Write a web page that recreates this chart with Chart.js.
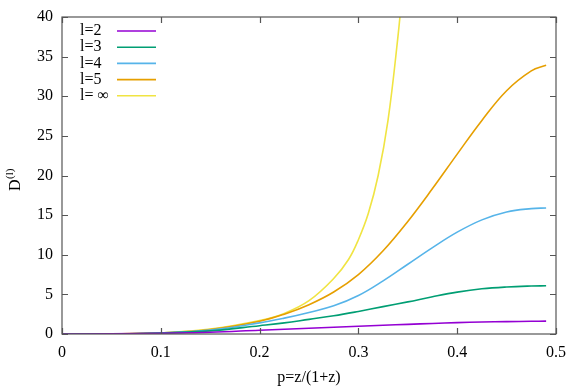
<!DOCTYPE html>
<html>
<head>
<meta charset="utf-8">
<script src="https://cdn.jsdelivr.net/npm/chart.js@4/dist/chart.umd.min.js"></script>
<style>
    html, body { margin: 0; padding: 0; background: #fff; }
    #wrap { width: 581px; height: 388px; }
</style>
</head>
<body>
<div id="wrap"><canvas id="dplot" width="581" height="388"></canvas></div>
<script>
// p grid shared by the finite-l curves
var pValues = [0, 0.05, 0.1, 0.15, 0.2, 0.225, 0.25, 0.275, 0.3, 0.325, 0.35, 0.375, 0.4, 0.425, 0.45, 0.475, 0.49];
var dL2 = [0, 0.01, 0.1, 0.22, 0.48, 0.6, 0.72, 0.85, 0.97, 1.1, 1.22, 1.33, 1.43, 1.51, 1.56, 1.6, 1.62];
var dL3 = [0, 0.01, 0.12, 0.4, 1.05, 1.4, 1.85, 2.3, 2.85, 3.45, 4.05, 4.7, 5.28, 5.7, 5.93, 6.05, 6.08];
var dL4 = [0, 0.01, 0.13, 0.5, 1.4, 2.0, 2.72, 3.55, 4.85, 6.7, 8.8, 10.9, 12.85, 14.4, 15.4, 15.82, 15.9];
var dL5 = [0, 0.01, 0.14, 0.55, 1.6, 2.5, 3.7, 5.3, 7.5, 10.5, 14.2, 18.35, 22.7, 26.95, 30.7, 33.2, 33.9];
// l = infinity runs off the top, so it has its own p grid
var pInf = [0, 0.05, 0.1, 0.15, 0.2, 0.225, 0.25, 0.275, 0.29, 0.3, 0.31, 0.32, 0.33, 0.34, 0.345];
var dLInf = [0, 0.01, 0.15, 0.62, 1.7, 2.6, 4.2, 7.0, 9.4, 11.9, 15.2, 20.0, 27.0, 37.5, 44];

var seriesLabels = ['l=2', 'l=3', 'l=4', 'l=5', 'l= \u221e'];
var seriesColors = ['#9400d3', '#009e73', '#56b4e9', '#e69f00', '#f0e442'];

var xTicks = [0, 0.1, 0.2, 0.3, 0.4, 0.5];
var yTicks = [0, 5, 10, 15, 20, 25, 30, 35, 40];
var xTitle = 'p=z/(1+z)';

var FONT = '"Liberation Serif", "Times New Roman", serif';

function pts(xs, ys) {
    var out = [];
    for (var i = 0; i < xs.length; i++) out.push({x: xs[i], y: ys[i]});
    return out;
}

var allY = [dL2, dL3, dL4, dL5, dLInf];
var dataSets = [];
allY.forEach(function (ys, k) {
    dataSets.push({
        label: seriesLabels[k],
        data: k === 4 ? pts(pInf, ys) : pts(pValues, ys),
        borderColor: seriesColors[k],
        backgroundColor: seriesColors[k],
        borderWidth: 1.6,
        pointRadius: 0,
        tension: 0.4,
        fill: false
    });
});

// gnuplot style frame: border, inward ticks on all four sides, labels, key
var gnuFrame = {
    id: 'gnuFrame',
    afterDatasetsDraw: function (chart) {
        var ctx = chart.ctx;
        var a = chart.chartArea;
        var xs = chart.scales.x, ys = chart.scales.y;
        ctx.save();
        ctx.strokeStyle = '#555';
        ctx.lineWidth = 1.2;
        ctx.strokeRect(a.left, a.top, a.right - a.left, a.bottom - a.top);

        ctx.beginPath();
        xTicks.forEach(function (v) {
            var px = Math.round(xs.getPixelForValue(v)) + 0.5;
            ctx.moveTo(px, a.bottom); ctx.lineTo(px, a.bottom - 6);
            ctx.moveTo(px, a.top); ctx.lineTo(px, a.top + 6);
        });
        yTicks.forEach(function (v) {
            var py = Math.round(ys.getPixelForValue(v)) + 0.5;
            ctx.moveTo(a.left, py); ctx.lineTo(a.left + 6, py);
            ctx.moveTo(a.right, py); ctx.lineTo(a.right - 6, py);
        });
        ctx.stroke();

        ctx.fillStyle = '#000';
        ctx.font = '16px ' + FONT;
        ctx.textAlign = 'center';
        ctx.textBaseline = 'middle';
        xTicks.forEach(function (v) {
            ctx.fillText(String(v), xs.getPixelForValue(v), a.bottom + 19);
        });
        ctx.textAlign = 'right';
        yTicks.forEach(function (v) {
            ctx.fillText(String(v), a.left - 9, ys.getPixelForValue(v));
        });

        ctx.textAlign = 'center';
        ctx.fillText(xTitle, (a.left + a.right) / 2, 378);

        // y title D^(l), rotated
        ctx.save();
        ctx.translate(20, 191);
        ctx.rotate(-Math.PI / 2);
        ctx.textAlign = 'left';
        ctx.textBaseline = 'alphabetic';
        ctx.font = '16px ' + FONT;
        ctx.fillText('D', 0, 0);
        var w = ctx.measureText('D').width;
        ctx.font = '11px ' + FONT;
        ctx.fillText('(l)', w + 0.5, -7);
        ctx.restore();

        // key
        ctx.font = '16px ' + FONT;
        ctx.textAlign = 'left';
        ctx.textBaseline = 'middle';
        chart.data.datasets.forEach(function (ds, i) {
            var yy = 31 + i * 16.2;
            ctx.fillStyle = '#000';
            ctx.fillText(ds.label, 80, yy);
            ctx.strokeStyle = ds.borderColor;
            ctx.lineWidth = 1.6;
            ctx.beginPath();
            ctx.moveTo(117, yy); ctx.lineTo(156, yy);
            ctx.stroke();
        });
        ctx.restore();
    }
};

new Chart(document.getElementById('dplot').getContext('2d'), {
    type: 'line',
    data: { datasets: dataSets },
    options: {
        responsive: false,
        maintainAspectRatio: false,
        animation: false,
        devicePixelRatio: 1,
        layout: {
            padding: { left: 62, right: 25, top: 17, bottom: 54 }
        },
        scales: {
            x: {
                type: 'linear',
                min: 0,
                max: 0.5,
                display: false
            },
            y: {
                min: 0,
                max: 40,
                display: false
            }
        },
        plugins: {
            legend: { display: false },
            tooltip: { enabled: false }
        }
    },
    plugins: [gnuFrame]
});
</script>
</body>
</html>
